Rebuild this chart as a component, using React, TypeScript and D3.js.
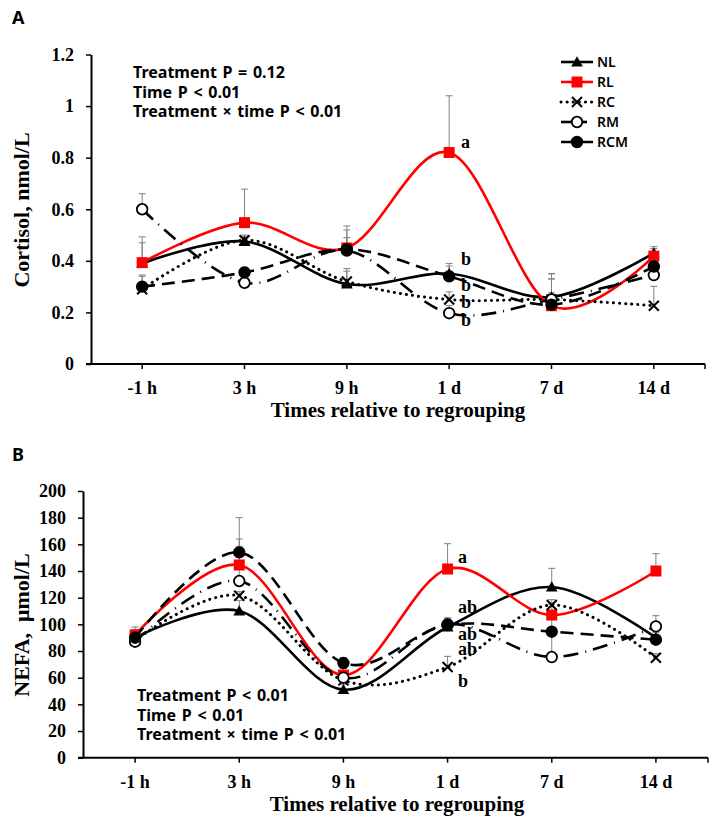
import React, { useEffect, useRef } from 'react';
import * as d3 from 'd3';

const times = ['-1 h', '3 h', '9 h', '1 d', '7 d', '14 d'];
const groups = ['NL', 'RL', 'RC', 'RM', 'RCM'];

// Cortisol, nmol/L
const cortisolNL = [0.39, 0.475, 0.31, 0.35, 0.26, 0.43];
const cortisolRL = [0.393, 0.548, 0.45, 0.82, 0.226, 0.418];
const cortisolRC = [0.29, 0.48, 0.32, 0.25, 0.25, 0.226];
const cortisolRM = [0.6, 0.315, 0.44, 0.197, 0.25, 0.345];
const cortisolRCM = [0.3, 0.355, 0.445, 0.34, 0.23, 0.378];
// upper SE bars
const cortisolSeNL = [0.08, 0.02, 0.06, 0.04, 0.09, 0.025];
const cortisolSeRL = [0.1, 0.13, 0.07, 0.22, 0.05, 0.03];
const cortisolSeRC = [0.05, 0.02, 0.04, 0.03, 0.08, 0.075];
const cortisolSeRM = [0.06, 0.03, 0.05, 0.03, 0.1, 0.04];
const cortisolSeRCM = [0.045, 0.02, 0.09, 0.04, 0.1, 0.05];
const cortisolLetters = ['b', 'a', 'b', 'b', 'b'];
const cortisolStats = ['Treatment P = 0.12', 'Time P < 0.01', 'Treatment \u00d7 time P < 0.01'];

// NEFA, umol/L
const nefaNL = [90, 110, 51, 98, 128, 90];
const nefaRL = [92, 144.5, 62, 141.5, 107, 140];
const nefaRC = [88, 121.5, 58, 68, 114.5, 75];
const nefaRM = [87, 132.5, 60, 100, 75.5, 98.5];
const nefaRCM = [90, 154, 71, 99.5, 94.5, 88.5];
const nefaSeNL = [6, 8, 4, 5, 14, 4];
const nefaSeRL = [6, 35.5, 5, 19, 8, 13];
const nefaSeRC = [6, 3, 4, 8, 4, 3];
const nefaSeRM = [6, 26, 4, 5, 18, 8];
const nefaSeRCM = [6, 10, 4, 5, 12, 4];
const nefaLetters = ['ab', 'a', 'b', 'ab', 'ab'];
const nefaStats = ['Treatment P < 0.01', 'Time P < 0.01', 'Treatment \u00d7 time P < 0.01'];

const SERIF = '"Liberation Serif", "Times New Roman", serif';
const SANS = '"Noto Sans", "Open Sans", sans-serif';

// line + marker look for each group
const styles: Record<string, { color: string; dash: string | null; cap: string; marker: string; fill: string }> = {
  NL: { color: '#000', dash: null, cap: 'butt', marker: 'triangle', fill: '#000' },
  RL: { color: '#ff0000', dash: null, cap: 'butt', marker: 'square', fill: '#ff0000' },
  RC: { color: '#000', dash: '0.1,6', cap: 'round', marker: 'x', fill: 'none' },
  RM: { color: '#000', dash: '15,7,1,7', cap: 'butt', marker: 'circle', fill: '#fff' },
  RCM: { color: '#000', dash: '13,7', cap: 'butt', marker: 'circle', fill: '#000' },
};

function drawMarker(g: any, kind: string, x: number, y: number, color: string, fill: string) {
  if (kind === 'square') {
    g.append('rect').attr('x', x - 5.5).attr('y', y - 5.5).attr('width', 11).attr('height', 11).attr('fill', fill);
  } else if (kind === 'triangle') {
    g.append('path')
      .attr('transform', `translate(${x},${y + 1})`)
      .attr('d', d3.symbol(d3.symbolTriangle, 60)())
      .attr('fill', fill);
  } else if (kind === 'x') {
    g.append('path')
      .attr('transform', `translate(${x},${y})`)
      .attr('d', 'M-5,-5L5,5M-5,5L5,-5')
      .attr('stroke', color)
      .attr('stroke-width', 2)
      .attr('fill', 'none');
  } else {
    g.append('circle').attr('cx', x).attr('cy', y).attr('r', 5.3)
      .attr('fill', fill).attr('stroke', color).attr('stroke-width', 1.8);
  }
}

function drawPanel(svg: any, cfg: any) {
  const g = svg.append('g');
  const x = d3.scaleBand().domain(times).range(cfg.xRange);
  const cx = (t: string) => (x(t) as number) + x.bandwidth() / 2;
  const y = d3.scaleLinear().domain(cfg.yDomain).range(cfg.yRange);

  // panel letter
  g.append('text').attr('x', 12).attr('y', cfg.panelY).text(cfg.panel)
    .style('font-family', SANS).style('font-weight', 700).style('font-size', '18px');

  // y axis
  const ticks = d3.range(0, cfg.yDomain[1] + cfg.yStep / 2, cfg.yStep);
  const fmt = d3.format('~g');
  const yAxis = g.append('g').attr('transform', `translate(${cfg.xRange[0]},0)`)
    .call(d3.axisLeft(y).tickValues(ticks).tickSize(5).tickSizeOuter(0).tickPadding(12).tickFormat((d: any) => fmt(+d.toFixed(2))));
  yAxis.select('.domain').attr('stroke-width', 2);
  yAxis.selectAll('line').attr('stroke-width', 1.5);
  yAxis.selectAll('text').style('font-family', SERIF).style('font-weight', 700).style('font-size', '18px');

  // x axis with ticks under each time point and at the right end
  const y0 = y(0);
  g.append('line').attr('x1', cfg.xRange[0] - 5).attr('x2', cfg.xRange[1]).attr('y1', y0).attr('y2', y0)
    .attr('stroke', '#000').attr('stroke-width', 2);
  const tickXs = times.map(cx).concat([cfg.xRange[1]]);
  g.selectAll('.xt').data(tickXs).enter().append('line')
    .attr('x1', (d: number) => d).attr('x2', (d: number) => d).attr('y1', y0).attr('y2', y0 + 5)
    .attr('stroke', '#000').attr('stroke-width', 1.5);
  g.selectAll('.xl').data(times).enter().append('text')
    .attr('x', (d: string) => cx(d)).attr('y', y0 + 30).attr('text-anchor', 'middle')
    .style('font-family', SERIF).style('font-weight', 700).style('font-size', '18px')
    .text((d: string) => d);
  g.append('text').attr('x', cfg.titleX).attr('y', y0 + 53).attr('text-anchor', 'middle')
    .style('font-family', SERIF).style('font-weight', 700).style('font-size', '21px')
    .text('Times relative to regrouping');

  // y title
  g.append('text').attr('transform', `translate(29,${cfg.yTitleY}) rotate(-90)`).attr('text-anchor', 'middle')
    .style('font-family', SERIF).style('font-weight', 700).style('font-size', '22px')
    .style('white-space', 'pre')
    .text(cfg.yTitle);

  // statistics block
  cfg.stats.forEach((s: string, i: number) => {
    g.append('text').attr('x', cfg.statsX).attr('y', cfg.statsY + i * 19.5).text(s)
      .style('font-family', SANS).style('font-weight', 700).style('font-size', '16px')
      .style('word-spacing', '1.5px')
      .style('white-space', 'pre');
  });

  // SE bars (upper only)
  cfg.series.forEach((vals: number[], si: number) => {
    vals.forEach((v: number, i: number) => {
      const px = cx(times[i]);
      const top = y(v + cfg.se[si][i]);
      g.append('line').attr('x1', px).attr('x2', px).attr('y1', y(v)).attr('y2', top)
        .attr('stroke', '#808080').attr('stroke-width', 1);
      g.append('line').attr('x1', px - 3.5).attr('x2', px + 3.5).attr('y1', top).attr('y2', top)
        .attr('stroke', '#808080').attr('stroke-width', 1);
    });
  });

  const line = d3.line<number>().x((_d, i) => cx(times[i])).y((d) => y(d)).curve(d3.curveCardinal.tension(0));

  cfg.series.forEach((vals: number[], si: number) => {
    const st = styles[groups[si]];
    g.append('path').attr('d', line(vals)).attr('fill', 'none')
      .attr('stroke', st.color).attr('stroke-width', st.dash === '0.1,6' ? 3 : 2.6)
      .attr('stroke-linecap', st.cap)
      .attr('stroke-dasharray', st.dash);
    vals.forEach((v: number, i: number) => drawMarker(g, st.marker, cx(times[i]), y(v), st.color, st.fill));
  });

  // significance letters at 1 d
  cfg.letters.forEach((l: any) => {
    g.append('text').attr('x', cfg.letterX).attr('y', l.y).text(l.text)
      .style('font-family', SERIF).style('font-weight', 700).style('font-size', '18px');
  });

  if (cfg.legend) {
    groups.forEach((name, i) => {
      const st = styles[name];
      const ly = 62 + i * 20;
      const lg = g.append('g');
      const dash = name === 'RC' ? '0.1,6' : name === 'RCM' ? '16,5' : null;
      lg.append('line').attr('x1', 561).attr('x2', name === 'RM' ? 587 : 593).attr('y1', ly).attr('y2', ly)
        .attr('stroke', st.color).attr('stroke-width', name === 'RC' ? 3 : 2.6)
        .attr('stroke-linecap', st.cap).attr('stroke-dasharray', dash);
      drawMarker(lg, st.marker, 577, ly, st.color, st.fill);
      lg.append('text').attr('x', 597).attr('y', ly + 5).text(name)
        .style('font-family', SANS).style('font-weight', 600).style('font-size', '14px');
    });
  }
}

const App = () => {
  const svgRef = useRef<SVGSVGElement>(null);

  useEffect(() => {
    document.body.style.margin = '0';
    const svg = d3.select(svgRef.current);
    svg.selectAll('*').remove();
    svg.append('rect').attr('width', 718).attr('height', 826).attr('fill', '#fff');

    drawPanel(svg, {
      panel: 'A', panelY: 24,
      xRange: [91, 705], yRange: [364, 54.5], yDomain: [0, 1.2], yStep: 0.2,
      series: [cortisolNL, cortisolRL, cortisolRC, cortisolRM, cortisolRCM],
      se: [cortisolSeNL, cortisolSeRL, cortisolSeRC, cortisolSeRM, cortisolSeRCM],
      yTitle: 'Cortisol, nmol/L', yTitleY: 210, titleX: 398,
      stats: cortisolStats, statsX: 133, statsY: 78,
      letterX: 461,
      letters: [
        { text: cortisolLetters[1], y: 148 },
        { text: cortisolLetters[0], y: 265 },
        { text: cortisolLetters[4], y: 291 },
        { text: cortisolLetters[2], y: 308 },
        { text: cortisolLetters[3], y: 326 },
      ],
      legend: true,
    });

    drawPanel(svg, {
      panel: 'B', panelY: 461,
      xRange: [83, 708], yRange: [757.7, 491], yDomain: [0, 200], yStep: 20,
      series: [nefaNL, nefaRL, nefaRC, nefaRM, nefaRCM],
      se: [nefaSeNL, nefaSeRL, nefaSeRC, nefaSeRM, nefaSeRCM],
      yTitle: 'NEFA,  \u03bcmol/L', yTitleY: 625, titleX: 397,
      stats: nefaStats, statsX: 137, statsY: 701,
      letterX: 458,
      letters: [
        { text: nefaLetters[1], y: 563 },
        { text: nefaLetters[0], y: 613 },
        { text: nefaLetters[4], y: 640 },
        { text: nefaLetters[3], y: 655 },
        { text: nefaLetters[2], y: 687 },
      ],
      legend: false,
    });
  }, []);

  return <svg ref={svgRef} width={718} height={826} style={{ display: 'block' }} />;
};

export default App;
